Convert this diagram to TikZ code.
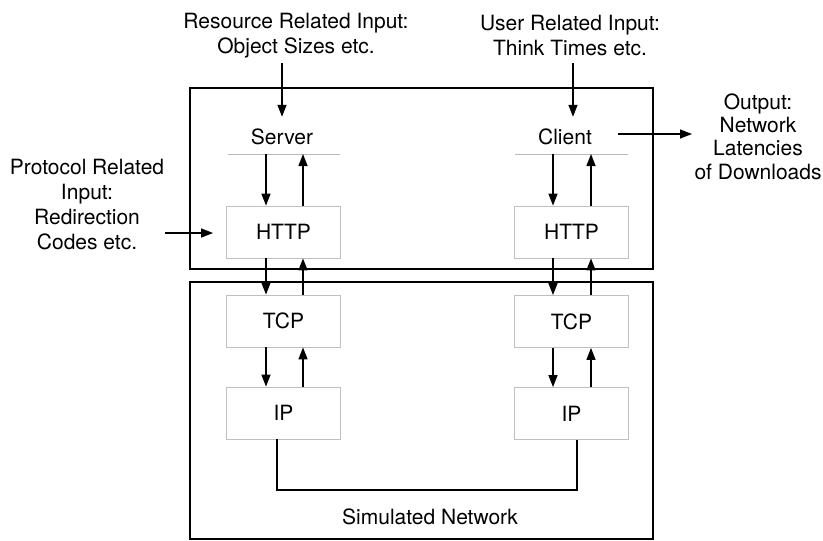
\documentclass[tikz,border=0pt]{standalone}
\usepackage{fontspec}
\setmainfont{TeX Gyre Heros}
\usetikzlibrary{arrows.meta}

\tikzset{
  frame/.style={draw, line width=2.6pt, inner sep=0pt},
  layer/.style={draw=gray!50, line width=0.8pt, minimum width=114pt, minimum height=52pt, inner sep=0pt,
                font=\fontsize{21}{25}\selectfont},
  lbl/.style={font=\fontsize{21}{25}\selectfont, align=center, inner sep=0pt},
  rulebar/.style={draw=gray!55, line width=0.8pt},
  arr/.style={-{Triangle[length=12pt,width=9pt]}, line width=1.4pt},
  net/.style={line width=2.8pt, line join=miter}
}

\begin{document}
\begin{tikzpicture}[x=1pt,y=-1pt]
\useasboundingbox (0,0) rectangle (823,541);

% the two enclosing frames: end hosts and simulated network
\node[frame, minimum width=463pt, minimum height=181pt] (upper) at (421.5,178.5) {};
\node[frame, minimum width=463pt, minimum height=257pt] (lower) at (421.5,410.5) {};

% application end points
\node[lbl] (srv) at (282,137) {Server};
\node[lbl] (cli) at (565,137) {Client};
\coordinate (srvA) at (228,154); \coordinate (srvB) at (340,154);
\coordinate (cliA) at (515,154); \coordinate (cliB) at (628,154);
\draw[rulebar] (srvA) -- (srvB);
\draw[rulebar] (cliA) -- (cliB);

% protocol stacks
\node[layer] (httpL) at (283.5,232) {HTTP};
\node[layer] (httpR) at (571.5,232) {HTTP};
\node[layer] (tcpL)  at (283.5,321) {TCP};
\node[layer] (tcpR)  at (571.5,321.5) {TCP};
\node[layer] (ipL)   at (283.5,413) {IP};
\node[layer] (ipR)   at (571.5,413.5) {IP};

% arrow columns
\coordinate (dL) at (266,0); \coordinate (uL) at (303,0);
\coordinate (dR) at (553,0); \coordinate (uR) at (591,0);

% server side stack arrows
\draw[arr] (srvA -| dL) -- (httpL.north -| dL);
\draw[arr] (httpL.north -| uL) -- (srvA -| uL);
\draw[arr] (httpL.south -| dL) -- (tcpL.north -| dL);
\draw[arr] (tcpL.north -| uL) -- (httpL.south -| uL);
\draw[arr] (tcpL.south -| dL) -- (ipL.north -| dL);
\draw[arr] (ipL.north -| uL) -- (tcpL.south -| uL);

% client side stack arrows
\draw[arr] (cliA -| dR) -- (httpR.north -| dR);
\draw[arr] (httpR.north -| uR) -- (cliA -| uR);
\draw[arr] (httpR.south -| dR) -- (tcpR.north -| dR);
\draw[arr] (tcpR.north -| uR) -- (httpR.south -| uR);
\draw[arr] (tcpR.south -| dR) -- (ipR.north -| dR);
\draw[arr] (ipR.north -| uR) -- (tcpR.south -| uR);

% network link between the two IP layers
\coordinate (netL) at (277,490);
\coordinate (netR) at (577,490);
\draw[net] (ipL.south -| netL) -- (netL) -- (netR) -- (ipR.south -| netR);
\node[lbl] (simnet) at (430,517) {Simulated Network};

% inputs and output
\node[lbl] (resIn) at (296,35.5) {Resource Related Input:\\Object Sizes etc.};
\node[lbl] (usrIn) at (570,35.5) {User Related Input:\\Think Times etc.};
\node[lbl] (proIn) at (87,204.5) {Protocol Related\\Input:\\Redirection\\Codes etc.};
\node[lbl, font=\fontsize{21}{23.3}\selectfont] (outp) at (758,136.5) {Output:\\Network\\Latencies\\of Downloads};

\coordinate (resTail) at (282,63);
\coordinate (usrTail) at (573,63);
\coordinate (proTail) at (165,233);
\coordinate (outTail) at (618,134);
\coordinate (outTip)  at (692,134);

\draw[arr] (resTail) -- ([yshift=12pt]srv.north);
\draw[arr] (usrTail) -- ([yshift=12pt]cli.north -| usrTail);
\draw[arr] (proTail) -- ([xshift=-13pt]httpL.west |- proTail);
\draw[arr] (outTail) -- (outTip);
\end{tikzpicture}
\end{document}
